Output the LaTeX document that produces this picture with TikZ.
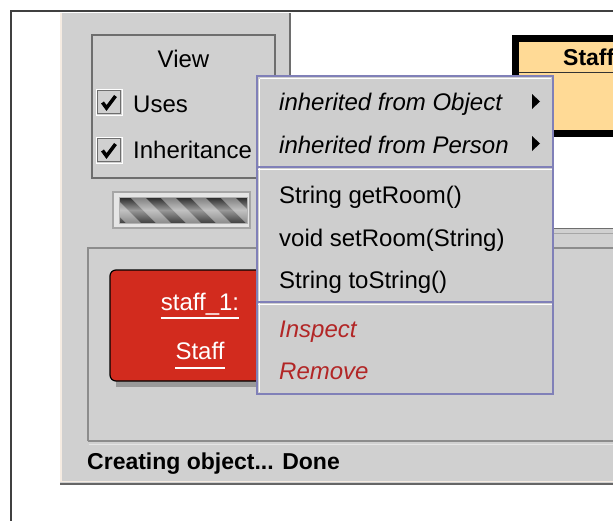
\documentclass[tikz,border=0pt]{standalone}
\usepackage{fontspec}
\setmainfont{Liberation Sans}
\usetikzlibrary{positioning}
\definecolor{panelgray}{RGB}{208,208,208}
\definecolor{menugray}{RGB}{206,206,206}
\definecolor{menuedge}{RGB}{128,128,184}
\definecolor{objred}{RGB}{210,43,30}
\definecolor{classfill}{RGB}{255,218,150}
\definecolor{actionred}{RGB}{178,38,38}
\definecolor{edgegray}{RGB}{110,110,110}
\begin{document}
\begin{tikzpicture}[x=1pt,y=-1pt,
		label/.style={anchor=base west,inner sep=0pt,font=\fontsize{24}{28}\selectfont},
		menuitem/.style={label},
		action/.style={label,text=actionred,font=\fontsize{24}{28}\selectfont\itshape},
		submenu/.style={label,font=\fontsize{24}{28}\selectfont\itshape},
		objtext/.style={anchor=base,inner sep=0pt,text=white,font=\fontsize{24}{28}\selectfont},
		checkbox/.style={draw=edgegray,line width=1.2pt,fill=panelgray}]
	\useasboundingbox (0,0) rectangle (613,520);
	\clip (0,0) rectangle (613,520);
	\fill[white] (0,0) rectangle (613,520);
	\draw[line width=1.5pt,black!75] (11,530) -- (11,11) -- (620,11);
	\fill[panelgray] (60,13) rectangle (620,483);
	\draw[line width=1.5pt,white!85!brown] (61,13) -- (61,482);
	\draw[line width=2pt,black!60] (60,484) -- (620,484);
	\draw[line width=1pt,white!85!brown] (62,481) -- (620,481);
	\fill[white] (291,13) rectangle (620,228);
	\draw[line width=1.2pt,edgegray] (290,13) -- (290,235);
	\draw[line width=1.2pt,edgegray] (290,228.5) -- (620,228.5);
	\draw[line width=1pt,black!35] (290,233) -- (620,233);
	\fill[black] (512,35) rectangle (620,137);
	\fill[classfill] (519,42) rectangle (620,130);
	\draw[line width=1pt,black!80] (519,72) -- (620,72);
	\node[anchor=base west,inner sep=0pt,font=\fontsize{23}{26}\selectfont\bfseries] (classname) at (563,65) {Staff};
	\draw[line width=1.5pt,edgegray] (92,35) rectangle (275,178);
	\node[label,anchor=base] (view) at (183.5,67) {View};
	\foreach \y/\name in {102/uses,150/inh}{
		\draw[white,line width=1pt] (96,\y-13) rectangle (122,\y+13);
		\draw[checkbox] (97.5,\y-11.5) rectangle (120.5,\y+11.5);
		\draw[line width=3.5pt,black] (102.5,\y+0.5) -- (106.5,\y+6) -- (115.5,\y-6);
	}
	\node[label] (uses) at (133,112) {Uses};
	\node[label] (inherit) at (133,158) {Inheritance};
	\fill[black!10] (113,192) rectangle (250,228);
	\draw[black!35,line width=1.2pt] (113,192) rectangle (250,228);
	\begin{scope}
		\clip (119,197) rectangle (247,223);
		\shade[top color=black!85,bottom color=black!75,middle color=black!40] (119,197) rectangle (247,223);
		\foreach \s in {0,...,5}{
			\fill[white,opacity=0.4] (100+30*\s,197) -- (115+30*\s,197) -- (141+30*\s,223) -- (126+30*\s,223) -- cycle;
		}
	\end{scope}
	\draw[black!30,line width=1pt] (119,197) rectangle (247,223);
	\draw[line width=1.5pt,black!45] (88,441) -- (88,248) -- (620,248);
	\draw[line width=1.5pt,black!45] (88,441) -- (620,441);
	\draw[line width=1pt,white!90!black] (89,444) -- (620,444);
	\fill[black!40] (116,276) rectangle (300,387);
	\draw[line width=1.2pt,black,fill=objred,rounded corners=6pt] (110,270) rectangle (300,381);
	\node[objtext] (objname) at (200,310) {staff\_1:};
	\node[objtext] (objclass) at (200,359) {Staff};
	\draw[white,line width=1.5pt] ([yshift=-8pt]objname.base west) -- ([yshift=-8pt]objname.base east);
	\draw[white,line width=1.5pt] ([yshift=-9pt]objclass.base west) -- ([yshift=-9pt]objclass.base east);
	\fill[menugray] (257,76) rectangle (553,394);
	\draw[white,line width=1pt] (259.5,78.5) -- (259.5,392);
	\draw[white,line width=1pt] (259.5,78.5) -- (551,78.5);
	\draw[line width=1.5pt,menuedge] (257,76) rectangle (553,394);
	\draw[line width=1.2pt,menuedge] (257,167) -- (553,167);
	\draw[line width=1pt,white] (258,169.5) -- (552,169.5);
	\draw[line width=1.2pt,menuedge] (257,302) -- (553,302);
	\draw[line width=1pt,white] (258,304.5) -- (552,304.5);
	\node[submenu] (fromobject) at (279,110) {inherited from Object};
	\node[submenu] (fromperson) at (279,153) {inherited from Person};
	\fill (532,94) -- (540,101.5) -- (532,109) -- cycle;
	\fill (532,136) -- (540,143.5) -- (532,151) -- cycle;
	\node[menuitem] (getroom) at (279,203) {String getRoom()};
	\node[menuitem] (setroom) at (279,246) {void setRoom(String)};
	\node[menuitem] (tostring) at (279,288) {String toString()};
	\node[action] (inspect) at (279,337) {Inspect};
	\node[action] (remove) at (279,379) {Remove};
	\node[anchor=base west,inner sep=0pt,font=\fontsize{23}{27}\selectfont\bfseries] (status) at (87,469) {Creating object... Done};
\end{tikzpicture}
\end{document}
